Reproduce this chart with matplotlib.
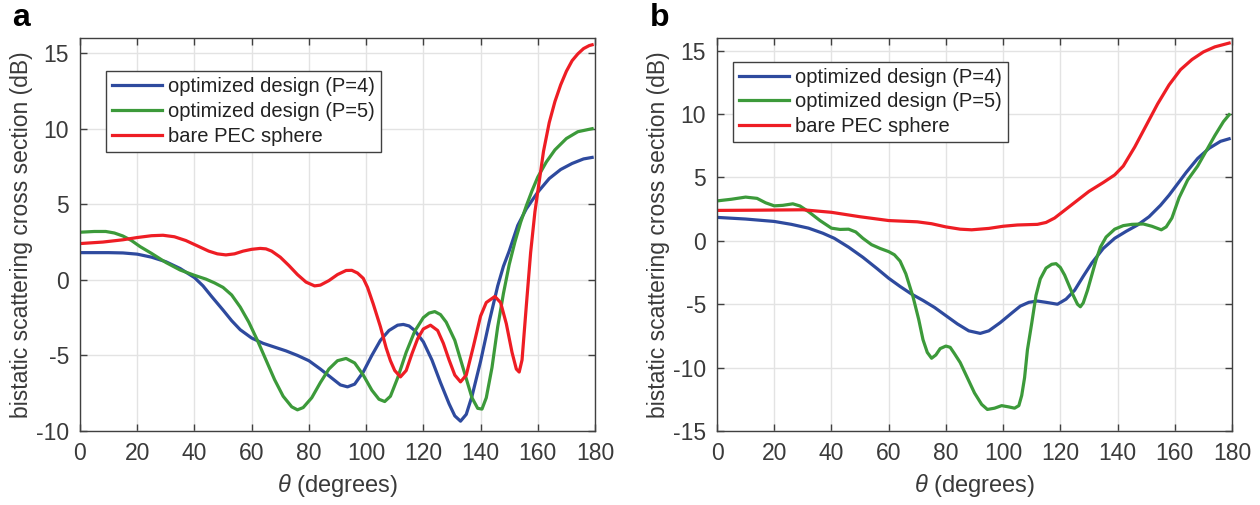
import numpy as np
import matplotlib
matplotlib.use("Agg")
import matplotlib.pyplot as plt

plt.rcParams['font.family'] = ['Liberation Sans', 'DejaVu Sans']
plt.rcParams['mathtext.fontset'] = 'custom'
plt.rcParams['mathtext.it'] = 'Liberation Sans:italic'
plt.rcParams['axes.unicode_minus'] = False

# ---- panel a data (theta in degrees, RCS in dB) ----
th_a_p4 = [0, 10, 15, 20, 25, 30, 35, 40, 43, 46, 50, 53, 56, 60, 64, 68, 72, 76, 80, 84,
           88, 91, 93.5, 96, 99, 102, 105, 108, 111, 113, 115, 117, 120, 123, 126, 129, 131,
           133, 135, 137, 140, 143, 146, 148, 150, 153, 156, 160, 164, 168, 172, 176, 179]
rcs_a_p4 = [1.8, 1.8, 1.78, 1.7, 1.5, 1.2, 0.75, 0.15, -0.4, -1.1, -2.0, -2.7, -3.3, -3.85,
            -4.2, -4.45, -4.7, -5.0, -5.35, -5.9, -6.5, -6.95, -7.08, -6.9, -6.1, -5.0, -4.0,
            -3.35, -3.0, -2.95, -3.05, -3.35, -4.1, -5.3, -6.8, -8.2, -9.0, -9.35, -8.9, -7.7,
            -5.4, -2.8, -0.4, 0.9, 1.9, 3.6, 4.7, 5.8, 6.7, 7.3, 7.7, 8.0, 8.1]

th_a_p5 = [0, 5, 9, 12, 15, 18, 21, 25, 30, 35, 40, 44, 47, 50, 53, 56, 59, 62, 65, 68, 71,
           74, 76, 78, 81, 84, 87, 90, 93, 96, 99, 102, 104.5, 106.5, 108.5, 111, 114, 117,
           120, 122, 124, 126, 128, 131, 134, 137, 139, 140.5, 142, 144, 146, 148, 150, 152,
           154, 156, 158, 160, 163, 166, 170, 174, 179]
rcs_a_p5 = [3.15, 3.2, 3.2, 3.1, 2.9, 2.6, 2.2, 1.75, 1.15, 0.65, 0.3, 0.05, -0.2, -0.5, -1.0,
            -1.8, -2.8, -4.0, -5.3, -6.6, -7.7, -8.4, -8.6, -8.45, -7.8, -6.8, -5.9, -5.35,
            -5.2, -5.5, -6.3, -7.3, -7.9, -8.05, -7.7, -6.5, -4.8, -3.4, -2.5, -2.2, -2.1,
            -2.3, -2.8, -4.0, -5.9, -7.8, -8.5, -8.55, -7.8, -5.8, -3.1, -0.9, 1.0, 2.5, 3.8,
            4.9, 5.9, 6.8, 7.8, 8.6, 9.35, 9.8, 10.0]

th_a_pec = [0, 8, 15, 20, 25, 29, 33, 37, 41, 45, 48, 51, 54, 57, 60, 63, 65, 67, 70, 73, 76,
            79, 82, 84, 87, 90, 93, 95, 97, 99, 100.5, 102.5, 105, 107, 108.5, 110, 112,
            114, 116, 118, 120, 122.5, 125, 127, 129, 131, 133, 135, 137.5, 140, 142, 145,
            147, 149, 151, 152.5, 153.5, 154.5, 156, 157.5, 159, 160.5, 162, 164, 166, 168,
            170, 172, 174, 176, 178, 179]
rcs_a_pec = [2.4, 2.5, 2.65, 2.8, 2.92, 2.95, 2.85, 2.6, 2.25, 1.9, 1.72, 1.65, 1.72, 1.9,
             2.02, 2.08, 2.05, 1.9, 1.5, 0.95, 0.35, -0.15, -0.4, -0.35, -0.05, 0.35, 0.62,
             0.63, 0.45, 0.1, -0.5, -1.6, -3.1, -4.5, -5.35, -6.0, -6.42, -6.0, -4.9, -3.9,
             -3.25, -3.0, -3.35, -4.2, -5.3, -6.3, -6.75, -6.3, -4.4, -2.4, -1.5, -1.1, -1.5,
             -2.9, -4.8, -5.9, -6.1, -5.3, -1.7, 1.8, 4.5, 6.5, 8.5, 10.4, 11.8, 12.9, 13.8,
             14.5, 14.95, 15.3, 15.5, 15.55]

# ---- panel b data ----
th_b_p4 = [0, 10, 20, 26, 32, 37, 41, 46, 51, 56, 60, 64, 68, 72, 76, 80, 84, 88, 92, 95, 99,
           103, 106, 109, 112, 115, 119, 122, 125, 128, 131, 135, 139, 143, 147, 151, 155,
           158, 161, 164, 168, 172, 176, 179]
rcs_b_p4 = [1.85, 1.72, 1.53, 1.3, 1.0, 0.6, 0.2, -0.5, -1.3, -2.2, -2.95, -3.6, -4.2, -4.7,
            -5.25, -5.9, -6.55, -7.1, -7.3, -7.1, -6.45, -5.7, -5.15, -4.85, -4.75, -4.85,
            -5.0, -4.6, -3.9, -2.8, -1.75, -0.6, 0.2, 0.75, 1.25, 1.9, 2.8, 3.6, 4.5, 5.4,
            6.5, 7.3, 7.85, 8.05]

th_b_p5 = [0, 5, 10, 14, 17, 20, 23, 26.5, 29, 32, 36, 40, 43, 46, 48.5, 51, 54, 57, 60, 62,
           64, 66, 68.5, 70.5, 72, 73.5, 75, 76.5, 78, 80, 81.5, 83, 85, 87.5, 90, 92.5, 94.5,
           97, 99.5, 102, 104, 105.5, 106.5, 107.5, 108.5, 110, 111.5, 113, 115, 117, 118.5,
           120, 121.5, 123, 124.5, 126, 127, 128, 129.5, 131, 132.5, 134, 136, 139, 142, 145,
           149, 152, 155.3, 157, 159, 161.5, 164.5, 168, 171, 174, 177, 179]
rcs_b_p5 = [3.15, 3.28, 3.45, 3.35, 3.0, 2.76, 2.8, 2.92, 2.75, 2.3, 1.6, 1.0, 0.9, 0.92, 0.7,
            0.2, -0.3, -0.6, -0.85, -1.1, -1.6, -2.6, -4.4, -6.2, -7.8, -8.8, -9.26, -9.0,
            -8.5, -8.3, -8.4, -8.9, -9.6, -10.8, -12.0, -12.9, -13.3, -13.2, -13.0, -13.1,
            -13.2, -13.0, -12.2, -10.8, -8.6, -6.5, -4.3, -3.0, -2.15, -1.85, -1.8, -2.1,
            -2.7, -3.5, -4.3, -5.0, -5.2, -4.9, -3.9, -2.7, -1.5, -0.5, 0.3, 0.92, 1.2, 1.3,
            1.33, 1.15, 0.87, 1.1, 1.8, 3.4, 4.8, 5.9, 7.1, 8.3, 9.4, 9.95]

th_b_pec = [0, 15, 30, 40, 50, 60, 70, 75, 80, 85, 89, 95, 100, 105, 112, 115, 118, 122, 126,
            130, 135, 139, 142, 146, 150, 154, 158, 162, 166, 170, 174, 179]
rcs_b_pec = [2.4, 2.42, 2.45, 2.25, 1.9, 1.6, 1.5, 1.35, 1.1, 0.92, 0.87, 0.98, 1.15, 1.25,
             1.3, 1.45, 1.8, 2.5, 3.2, 3.9, 4.6, 5.2, 5.9, 7.4, 9.1, 10.8, 12.3, 13.5, 14.3,
             14.9, 15.3, 15.6]

c_blue = '#2e4a9e'
c_green = '#3c9a3a'
c_red = '#ee1d24'
txt = '#3a3a3a'
labels = ['optimized design (P=4)', 'optimized design (P=5)', 'bare PEC sphere']


def style_axes(ax, ylim, yticks):
    ax.set_xlim(0, 180)
    ax.set_ylim(*ylim)
    ax.set_xticks(np.arange(0, 181, 20))
    ax.set_yticks(yticks)
    ax.grid(True, color='#e3e3e3', linewidth=1.0)
    ax.set_axisbelow(True)
    ax.tick_params(direction='in', top=True, right=True, length=5, width=1,
                   labelsize=16.5, colors='#404040', labelcolor=txt, pad=8)
    for s in ax.spines.values():
        s.set_color('#404040')
        s.set_linewidth(1.0)
    ax.set_xlabel(r'$\theta$ (degrees)', fontsize=17, color=txt, labelpad=5)
    ax.set_ylabel('bistatic scattering cross section (dB)', fontsize=16.5, color=txt,
                  labelpad=2)


fig = plt.figure(figsize=(12.6, 5.05), dpi=100)
ax1 = fig.add_axes([80 / 1260, 74 / 505, 515 / 1260, 393 / 505])
ax2 = fig.add_axes([717 / 1260, 74 / 505, 515 / 1260, 393 / 505])

lw = 2.3
ax1.plot(th_a_p4, rcs_a_p4, color=c_blue, lw=lw, label=labels[0])
ax1.plot(th_a_p5, rcs_a_p5, color=c_green, lw=lw, label=labels[1])
ax1.plot(th_a_pec, rcs_a_pec, color=c_red, lw=lw, label=labels[2])
style_axes(ax1, (-10, 16), [-10, -5, 0, 5, 10, 15])

ax2.plot(th_b_p4, rcs_b_p4, color=c_blue, lw=lw, label=labels[0])
ax2.plot(th_b_p5, rcs_b_p5, color=c_green, lw=lw, label=labels[1])
ax2.plot(th_b_pec, rcs_b_pec, color=c_red, lw=lw, label=labels[2])
style_axes(ax2, (-15, 16), [-15, -10, -5, 0, 5, 10, 15])

for ax, anchor in [(ax1, (0.05, 0.915)), (ax2, (0.031, 0.94))]:
    leg = ax.legend(loc='upper left', bbox_to_anchor=anchor, fontsize=14.5, frameon=True,
                    fancybox=False, framealpha=1, edgecolor='#404040', borderpad=0.3,
                    handlelength=2.5, handletextpad=0.3, labelspacing=0.28,
                    borderaxespad=0)
    leg.get_frame().set_linewidth(1.0)
    for t in leg.get_texts():
        t.set_color('#222222')

fig.text(12 / 1260, 1 - 26 / 505, 'a', fontsize=23, fontweight='bold')
fig.text(650 / 1260, 1 - 26 / 505, 'b', fontsize=23, fontweight='bold')

fig.savefig('out.png', dpi=100)
